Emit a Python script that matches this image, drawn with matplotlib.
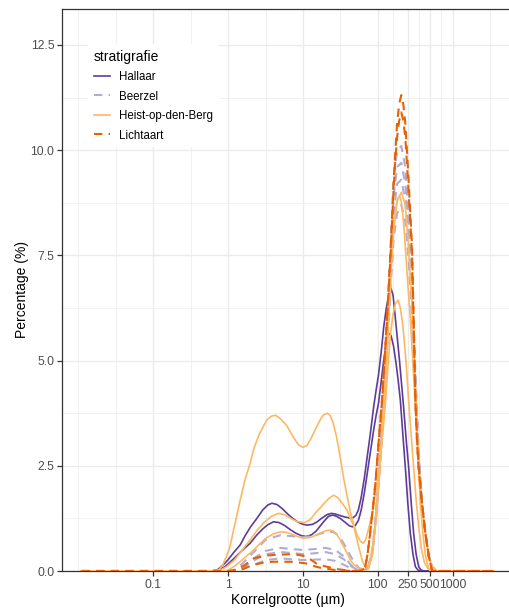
import matplotlib
matplotlib.use("Agg")
import matplotlib.pyplot as plt
from matplotlib.lines import Line2D

plt.rcParams['font.family'] = ['Liberation Sans', 'DejaVu Sans']

# --- data (grain size in um, percentage) ---
hallaar_1_um = [0.011, 0.6, 0.72, 0.8, 0.9, 1.0, 1.2, 1.45, 1.7, 2.0, 2.42, 2.9, 3.4, 3.85, 4.5, 5.3, 6.2,
                7.3, 8.6, 10, 11.5, 13.5, 15.5, 18, 21, 24, 27.5, 32, 37, 42, 47, 51, 55, 60, 66, 72, 80,
                88, 95, 102, 111, 120, 130, 140, 150, 160, 171, 195, 221, 240, 258, 280, 301, 325, 352,
                380, 420, 3500]
hallaar_1_pct = [0, 0, 0.03, 0.1, 0.18, 0.27, 0.45, 0.62, 0.85, 1.05, 1.25, 1.45, 1.57, 1.61, 1.58, 1.48,
                 1.36, 1.25, 1.16, 1.11, 1.09, 1.11, 1.17, 1.26, 1.34, 1.37, 1.35, 1.31, 1.28, 1.26, 1.27,
                 1.32, 1.45, 1.75, 2.2, 2.7, 3.3, 3.9, 4.3, 4.65, 5.2, 5.8, 6.25, 6.55, 6.72, 6.55, 6.04,
                 5.0, 3.9, 3.1, 2.48, 1.6, 0.9, 0.4, 0.1, 0.02, 0, 0]
hallaar_2_um = [0.011, 0.65, 0.78, 0.9, 1.0, 1.2, 1.5, 1.97, 2.4, 2.9, 3.4, 4.04, 4.8, 5.7, 6.8, 8, 9.5,
                11, 13, 15, 17, 19.5, 22, 25, 28, 32, 37, 42, 46, 50, 55, 60, 66, 72, 80, 88, 95, 102,
                111, 120, 130, 139, 150, 162, 175, 188, 200, 216, 233, 252, 272, 295, 318, 345, 380, 3500]
hallaar_2_pct = [0, 0, 0.04, 0.1, 0.17, 0.3, 0.47, 0.66, 0.85, 1.0, 1.1, 1.17, 1.15, 1.08, 0.98, 0.9, 0.84,
                 0.82, 0.86, 0.95, 1.07, 1.2, 1.3, 1.33, 1.3, 1.24, 1.15, 1.07, 1.05, 1.08, 1.2, 1.45, 1.85,
                 2.3, 2.85, 3.35, 3.7, 3.98, 4.5, 5.01, 5.4, 5.65, 5.6, 5.35, 4.95, 4.5, 4.06, 3.25, 2.48,
                 1.6, 0.9, 0.4, 0.1, 0.02, 0, 0]

beerzel_1_um = [0.011, 1.1, 1.3, 1.6, 2.2, 3.2, 5, 7, 10, 14, 18, 25, 30, 36, 45, 55, 65, 75, 85, 95, 105,
                114, 124, 133, 149, 163, 181, 206, 233, 258, 287, 318, 352, 390, 432, 480, 531, 600, 3500]
beerzel_1_pct = [0, 0, 0.05, 0.2, 0.45, 0.75, 0.85, 0.83, 0.8, 0.84, 0.9, 0.93, 0.85, 0.62, 0.3, 0.08, 0.02,
                 0.1, 0.5, 1.4, 2.4, 3.3, 4.3, 5.2, 6.8, 7.9, 8.5, 8.7, 8.3, 7.4, 6.0, 4.3, 2.6, 1.5, 0.9,
                 0.35, 0.1, 0, 0]
beerzel_2_um = [0.011, 1.2, 1.4, 1.7, 2.2, 3.2, 5, 7, 10, 14, 20, 27, 35, 45, 55, 65, 75, 85, 95, 105,
                114, 124, 133, 149, 163, 181, 206, 233, 258, 287, 318, 352, 390, 432, 480, 531, 600, 3500]
beerzel_2_pct = [0, 0, 0.04, 0.15, 0.3, 0.48, 0.55, 0.52, 0.5, 0.52, 0.55, 0.5, 0.35, 0.12, 0.03, 0, 0.1,
                 0.45, 1.3, 2.3, 3.3, 4.4, 5.4, 7.2, 8.5, 9.2, 9.3, 8.8, 7.8, 6.4, 4.5, 2.7, 1.6, 0.9, 0.35,
                 0.1, 0, 0]
beerzel_3_um = [0.011, 1.2, 1.4, 1.7, 2.2, 3.2, 5, 7, 10, 14, 20, 27, 35, 45, 55, 65, 75, 85, 95, 105,
                114, 124, 133, 149, 163, 181, 206, 233, 258, 287, 318, 352, 390, 432, 480, 531, 600, 3500]
beerzel_3_pct = [0, 0, 0.03, 0.12, 0.25, 0.4, 0.45, 0.43, 0.4, 0.42, 0.45, 0.4, 0.28, 0.1, 0.02, 0, 0.1,
                 0.45, 1.3, 2.35, 3.4, 4.5, 5.6, 7.5, 8.9, 9.6, 9.7, 9.2, 8.1, 6.6, 4.6, 2.7, 1.6, 0.9, 0.35,
                 0.1, 0, 0]
beerzel_4_um = [0.011, 1.3, 1.5, 1.8, 2.2, 3.2, 5, 7, 10, 14, 20, 27, 35, 45, 55, 65, 75, 85, 95, 105,
                114, 124, 133, 149, 163, 181, 206, 233, 258, 287, 318, 352, 390, 432, 480, 531, 600, 3500]
beerzel_4_pct = [0, 0, 0.03, 0.09, 0.15, 0.26, 0.3, 0.28, 0.26, 0.27, 0.28, 0.24, 0.15, 0.05, 0.01, 0, 0.1,
                 0.5, 1.4, 2.5, 3.6, 4.7, 5.8, 7.8, 9.3, 10.0, 10.1, 9.6, 8.4, 6.8, 4.7, 2.7, 1.6, 0.9, 0.35,
                 0.1, 0, 0]

heist_1_um = [0.011, 0.6, 0.75, 0.85, 0.95, 1.06, 1.18, 1.3, 1.45, 1.7, 1.97, 2.18, 2.6, 3.28, 3.8, 4.3,
              5.0, 6.1, 7.3, 8.7, 10, 11.3, 12.8, 14.5, 16.5, 18.5, 21, 23, 25, 28, 31.5, 35, 38.7, 43,
              47.4, 53, 58, 63, 68, 73, 80, 87, 93, 100, 108, 117, 126, 136, 147, 160, 172, 187, 200, 212,
              221, 240, 258, 280, 300, 325, 350, 380, 420, 470, 550, 3500]
heist_1_pct = [0, 0, 0.03, 0.15, 0.35, 0.58, 0.97, 1.3, 1.69, 2.2, 2.56, 2.88, 3.25, 3.59, 3.68, 3.7, 3.62,
               3.45, 3.2, 3.0, 2.94, 2.98, 3.15, 3.35, 3.55, 3.7, 3.75, 3.7, 3.55, 3.2, 2.7, 2.2, 1.8, 1.4,
               1.12, 0.85, 0.72, 0.66, 0.72, 0.9, 1.2, 1.5, 1.85, 2.2, 2.65, 3.3, 3.95, 4.8, 5.6, 6.1, 6.35,
               6.44, 6.25, 5.95, 5.65, 4.9, 4.06, 3.2, 2.5, 1.7, 1.1, 0.55, 0.2, 0.05, 0, 0]
heist_2_um = [0.011, 0.7, 0.8, 0.95, 1.2, 1.5, 1.97, 2.4, 3.0, 3.8, 4.7, 5.6, 6.5, 7.5, 8.5, 10.5, 12.5,
              15, 17, 19, 22, 25.6, 29, 32, 35, 38.7, 43, 47, 51, 55, 59, 62, 66, 70, 75, 80, 85, 90, 95,
              100, 110, 120, 127, 133, 143, 155, 165, 175, 185, 196, 205, 215, 225, 233, 250, 272, 295,
              318, 345, 370, 400, 430, 470, 500, 3500]
heist_2_pct = [0, 0, 0.03, 0.1, 0.25, 0.47, 0.74, 0.95, 1.15, 1.3, 1.37, 1.34, 1.28, 1.21, 1.17, 1.15, 1.22,
               1.4, 1.5, 1.6, 1.72, 1.8, 1.75, 1.65, 1.56, 1.45, 1.25, 1.1, 0.85, 0.6, 0.4, 0.25, 0.13, 0.1,
               0.15, 0.3, 0.55, 0.9, 1.3, 1.8, 2.8, 3.9, 4.6, 5.25, 6.4, 7.7, 8.3, 8.65, 8.85, 8.9, 8.8, 8.5,
               8.1, 7.7, 6.9, 6.0, 4.9, 3.9, 2.7, 1.6, 0.9, 0.4, 0.1, 0, 0]
heist_3_um = [0.011, 0.9, 1.0, 1.18, 1.4, 1.7, 2.2, 2.7, 3.2, 4, 5, 6, 7, 8.5, 10, 12, 14, 16, 18, 20.5,
              23, 25.5, 28, 30.5, 33, 37, 43, 48, 55, 62, 68, 75, 85, 95, 105, 114, 124, 133, 149, 163,
              181, 206, 233, 258, 287, 318, 352, 390, 432, 480, 531, 600, 3500]
heist_3_pct = [0, 0, 0.02, 0.1, 0.2, 0.33, 0.5, 0.66, 0.78, 0.88, 0.93, 0.92, 0.88, 0.82, 0.78, 0.79, 0.83,
               0.88, 0.92, 0.96, 0.97, 0.95, 0.88, 0.78, 0.66, 0.5, 0.26, 0.15, 0.07, 0.02, 0, 0.05, 0.4,
               1.3, 2.3, 3.3, 4.3, 5.3, 7.0, 8.1, 8.8, 9.0, 8.7, 7.7, 6.3, 4.4, 2.6, 1.5, 0.9, 0.35, 0.1, 0, 0]

lichtaart_1_um = [0.011, 1.0, 1.3, 1.7, 2.2, 3, 4, 5.5, 7, 9, 11, 13, 15, 18, 21, 25, 30, 37, 45, 55, 62, 68,
                  73, 79, 86, 93, 103, 114, 124, 133, 141, 149, 156, 163, 172, 181, 193, 206, 219, 233, 245,
                  258, 272, 287, 301, 318, 335, 352, 390, 432, 480, 531, 3500]
lichtaart_1_pct = [0, 0, 0.03, 0.15, 0.3, 0.36, 0.38, 0.39, 0.4, 0.38, 0.34, 0.26, 0.18, 0.13, 0.1, 0.07,
                   0.04, 0.02, 0, 0, 0.02, 0.1, 0.4, 0.9, 1.5, 2.09, 3.1, 4.06, 5.1, 6.04, 6.9, 7.7, 8.5, 9.29,
                   10.0, 10.64, 11.1, 11.31, 11.1, 10.64, 10.0, 9.29, 8.5, 7.7, 6.04, 4.06, 3.1, 2.48, 1.6, 0.9,
                   0.35, 0, 0]
lichtaart_2_um = [0.011, 1.2, 1.5, 1.8, 2.2, 3, 4, 5.5, 7, 9, 11, 13, 15, 18, 21, 25, 30, 37, 45, 55, 62, 68,
                  73, 79, 86, 93, 103, 114, 124, 133, 141, 149, 156, 163, 172, 181, 193, 206, 219, 233, 245,
                  258, 272, 287, 301, 318, 335, 352, 390, 432, 480, 531, 3500]
lichtaart_2_pct = [0, 0, 0.03, 0.09, 0.15, 0.2, 0.22, 0.22, 0.22, 0.2, 0.18, 0.14, 0.1, 0.07, 0.05, 0.03,
                   0.02, 0.01, 0, 0, 0.02, 0.1, 0.4, 0.9, 1.5, 2.1, 3.1, 4.1, 5.1, 6.0, 6.8, 7.6, 8.4, 9.1, 9.8,
                   10.3, 10.7, 10.9, 10.7, 10.3, 9.7, 9.0, 8.3, 7.5, 5.9, 4.0, 3.0, 2.4, 1.6, 0.9, 0.35, 0, 0]

groups = ["Hallaar", "Beerzel", "Heist-op-den-Berg", "Lichtaart"]
colours = ["#5E3C99", "#B2ABD2", "#FDB863", "#E66101"]
curves = [
    [(hallaar_1_um, hallaar_1_pct), (hallaar_2_um, hallaar_2_pct)],
    [(beerzel_1_um, beerzel_1_pct), (beerzel_2_um, beerzel_2_pct),
     (beerzel_3_um, beerzel_3_pct), (beerzel_4_um, beerzel_4_pct)],
    [(heist_1_um, heist_1_pct), (heist_2_um, heist_2_pct), (heist_3_um, heist_3_pct)],
    [(lichtaart_1_um, lichtaart_1_pct), (lichtaart_2_um, lichtaart_2_pct)],
]
dashed = [False, True, False, True]

x_breaks = [0.1, 1, 10, 100, 250, 500, 1000]
x_labels = ["0.1", "1", "10", "100", "250", "500", "1000"]
x_minor = [0.01, 0.0316, 0.316, 3.16, 31.6, 158, 354, 707, 3162]
y_breaks = [0, 2.5, 5, 7.5, 10, 12.5]
y_minor = [1.25, 3.75, 6.25, 8.75, 11.25]

fig = plt.figure(figsize=(5.1, 6.1), dpi=100)
ax = fig.add_axes([62 / 510, 39 / 610, 452 / 510, 562 / 610])

handles = []
for name, col, dash, group in zip(groups, colours, dashed, curves):
    for um, pct in group:
        if dash:
            ax.plot(um, pct, color=col, lw=1.5, dashes=(4, 3), zorder=3)
        else:
            ax.plot(um, pct, color=col, lw=1.2, zorder=3)
    if dash:
        handles.append(Line2D([], [], color=col, lw=1.5, dashes=(4, 3)))
    else:
        handles.append(Line2D([], [], color=col, lw=1.2))

ax.set_xscale('log')
ax.set_xlim(10 ** -2.22, 10 ** 3.82)
ax.set_ylim(0, 13.355)
ax.set_xticks(x_breaks)
ax.set_xticklabels(x_labels)
ax.set_xticks(x_minor, minor=True)
ax.set_xticklabels([], minor=True)
ax.set_yticks(y_breaks)
ax.set_yticklabels(["%.1f" % v for v in y_breaks])
ax.set_yticks(y_minor, minor=True)

ax.grid(which='major', color='#EBEBEB', lw=1.0, zorder=0)
ax.grid(which='minor', color='#EBEBEB', lw=0.5, zorder=0)
ax.set_axisbelow(True)
ax.tick_params(which='major', length=3.5, width=0.9, color='#333333', labelcolor='#4D4D4D',
               labelsize=8.8, pad=2)
ax.tick_params(which='minor', length=0)
for sp in ax.spines.values():
    sp.set_color('#333333')
    sp.set_linewidth(0.9)

ax.set_xlabel("Korrelgrootte (µm)", fontsize=10, labelpad=2)
ax.set_ylabel("Percentage (%)", fontsize=10, labelpad=1)

leg = ax.legend(handles, groups, title="stratigrafie", loc='upper left',
                bbox_to_anchor=(82 / 510, 1 - 38 / 610), bbox_transform=fig.transFigure,
                frameon=True, fancybox=False, edgecolor='none', facecolor='white', framealpha=1,
                fontsize=8.3, title_fontsize=10, handlelength=1.4, handletextpad=0.8,
                labelspacing=0.65, borderpad=0.5, alignment='left')

fig.savefig("out.png", dpi=100)
